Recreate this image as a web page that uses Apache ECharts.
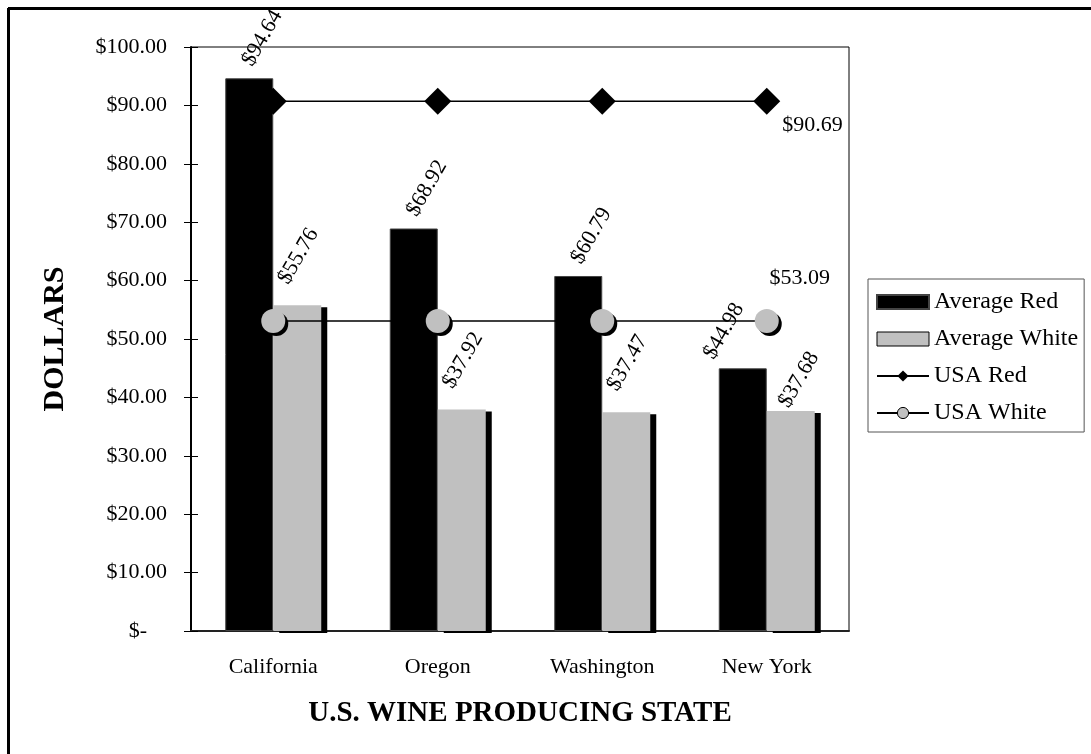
<!DOCTYPE html>
<html>
<head>
<meta charset="utf-8">
<script src="https://cdn.jsdelivr.net/npm/echarts@6/dist/echarts.min.js"></script>
<style>
  html, body { margin: 0; padding: 0; background: #fff; }
  #chart { width: 1091px; height: 754px; }
</style>
</head>
<body>
<div id="chart"></div>
<script>
// data
const states = ['California', 'Oregon', 'Washington', 'New York']
const avgRed = [94.64, 68.92, 60.79, 44.98]
const avgWhite = [55.76, 37.92, 37.47, 37.68]
const usaRed = [90.69, 90.69, 90.69, 90.69]
const usaWhite = [53.09, 53.09, 53.09, 53.09]

const FONT = 'Liberation Serif'
const money = v => '$' + v.toFixed(2)

let chart = echarts.init(document.getElementById('chart'))

// rotated bar label, anchored just above the bar
let barLabel = (pos) => ({
  show: true,
  position: pos,
  rotate: 60,
  align: 'left',
  verticalAlign: 'middle',
  fontFamily: FONT,
  fontSize: 22,
  color: '#000',
  formatter: p => money(p.value)
})

let opts = {
  animation: false,
  textStyle: { fontFamily: FONT, color: '#000' },
  grid: {
    left: 191, top: 47, right: 242, bottom: 123,
    show: true, borderColor: '#000', borderWidth: 1,
    outerBoundsMode: 'none'
  },
  legend: {
    orient: 'vertical',
    left: 868, top: 279,
    padding: [11, 6, 7, 8],
    itemGap: 13,
    itemWidth: 52, itemHeight: 14,
    borderColor: '#555', borderWidth: 1,
    textStyle: { fontFamily: FONT, fontSize: 24, color: '#000' },
    data: [
      { name: 'Average Red', icon: 'rect' },
      { name: 'Average White', icon: 'rect', itemStyle: { borderColor: '#000', borderWidth: 1, shadowColor: 'transparent' } },
      { name: 'USA Red' },
      { name: 'USA White', itemStyle: { borderColor: '#000', borderWidth: 1, shadowColor: 'transparent' } }
    ]
  },
  xAxis: [
    {
      type: 'category',
      data: states,
      name: 'U.S. WINE PRODUCING STATE',
      nameLocation: 'middle',
      nameGap: 68,
      nameTextStyle: { fontFamily: FONT, fontSize: 29, fontWeight: 'bold', color: '#000' },
      axisLine: { lineStyle: { color: '#222', width: 2 } },
      axisTick: { length: 7, lineStyle: { color: '#222' } },
      axisLabel: { fontFamily: FONT, fontSize: 22, color: '#000', margin: 25 }
    },
    {
      // second copy only for the inner half of the crossing ticks
      type: 'category',
      data: states,
      position: 'bottom',
      axisLine: { show: false },
      axisTick: { inside: true, length: 7, lineStyle: { color: '#222' } },
      axisLabel: { show: false }
    }
  ],
  yAxis: [
    {
      type: 'value',
      min: 0, max: 100, interval: 10,
      name: 'DOLLARS',
      nameLocation: 'middle',
      nameGap: 121,
      nameRotate: 90,
      nameTextStyle: { fontFamily: FONT, fontSize: 30, fontWeight: 'bold', color: '#000' },
      splitLine: { show: false },
      axisLine: { show: true, lineStyle: { color: '#000', width: 2 } },
      axisTick: { show: true, length: 7, lineStyle: { color: '#000' } },
      axisLabel: {
        fontFamily: FONT, fontSize: 22, color: '#000', margin: 24,
        formatter: v => v === 0 ? '{z|$-}' : money(v),
        rich: { z: { fontFamily: FONT, fontSize: 22, padding: [0, 20, 0, 0] } }
      }
    },
    {
      type: 'value',
      min: 0, max: 100, interval: 10,
      position: 'left',
      splitLine: { show: false },
      axisLine: { show: false },
      axisTick: { show: true, inside: true, length: 7, lineStyle: { color: '#000' } },
      axisLabel: { show: false }
    }
  ],
  series: [
    {
      name: 'Average Red',
      type: 'bar',
      barWidth: 48,
      barGap: '0%',
      itemStyle: { color: '#000', borderColor: '#444', borderWidth: 1 },
      label: barLabel([22, -14]),
      data: avgRed.map((v, i) => i === 3 ? { value: v, label: { position: [-10, -11] } } : v)
    },
    {
      name: 'Average White',
      type: 'bar',
      barWidth: 48,
      itemStyle: {
        color: '#c0c0c0', borderWidth: 0,
        shadowColor: '#000', shadowBlur: 0, shadowOffsetX: 6, shadowOffsetY: 2
      },
      label: barLabel([10, -23]),
      data: avgWhite.map((v, i) => i === 3 ? { value: v, label: { position: [17, -5] } } : v)
    },
    {
      name: 'USA Red',
      type: 'line',
      z: 5,
      symbol: 'diamond',
      symbolSize: 27,
      lineStyle: { color: '#000', width: 1.5 },
      itemStyle: { color: '#000' },
      data: usaRed.map((v, i) => i === usaRed.length - 1 ? {
        value: v,
        label: {
          show: true, position: 'right', distance: 2, offset: [0, 24],
          fontFamily: FONT, fontSize: 22, color: '#000',
          formatter: p => money(p.value)
        }
      } : v)
    },
    {
      name: 'USA White',
      type: 'line',
      z: 5,
      symbol: 'circle',
      symbolSize: 24,
      lineStyle: { color: '#000', width: 1.5 },
      itemStyle: {
        color: '#c0c0c0', borderWidth: 0,
        shadowColor: '#000', shadowBlur: 0, shadowOffsetX: 3, shadowOffsetY: 3
      },
      data: usaWhite.map((v, i) => i === usaWhite.length - 1 ? {
        value: v,
        label: {
          show: true, position: 'top', distance: 5, offset: [33, -15],
          fontFamily: FONT, fontSize: 22, color: '#000',
          formatter: p => money(p.value)
        }
      } : v)
    }
  ],
  graphic: [
    // outer frame (top and left edges are what shows in the picture)
    { type: 'line', silent: true, shape: { x1: 8, y1: 8.5, x2: 1091, y2: 8.5 }, style: { stroke: '#000', lineWidth: 3 } },
    { type: 'line', silent: true, shape: { x1: 8.5, y1: 8, x2: 8.5, y2: 754 }, style: { stroke: '#000', lineWidth: 3 } }
  ]
}

chart.setOption(opts)
</script>
</body>
</html>
